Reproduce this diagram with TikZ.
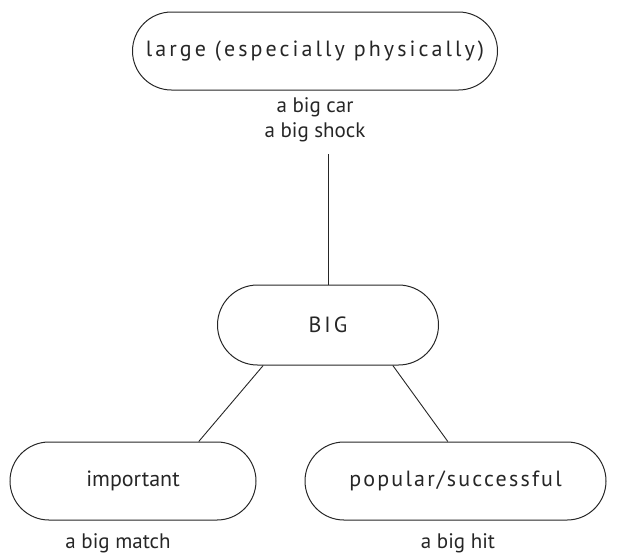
\documentclass[tikz,border=0pt]{standalone}
\usepackage{fontspec}
\setmainfont{PT Sans}
\usetikzlibrary{shapes.misc}
\newcommand{\spaced}[2]{{\addfontfeatures{LetterSpace=#1}#2}}
\begin{document}
\begin{tikzpicture}[x=1pt,y=-1pt,
  sense/.style={draw=black!85, line width=1pt, rounded rectangle, inner sep=0pt, font=\fontsize{22}{26}\selectfont, text=black!85},
  example/.style={font=\fontsize{21}{25}\selectfont, align=center, text=black!85, inner sep=0pt},
  link/.style={draw=black!85, line width=0.9pt}]
\useasboundingbox (0,0) rectangle (620,555);
\node[sense, minimum width=365pt, minimum height=78pt] (large) at (315,51) {\spaced{14}{large (especially physically)}};
\node[example] (largeex) at (315,120) {a big car\\a big shock};
\node[sense, minimum width=221pt, minimum height=80pt] (big) at (328,325) {\spaced{14}{BIG}};
\node[sense, minimum width=246pt, minimum height=78pt] (important) at (133,481) {important};
\node[sense, minimum width=301pt, minimum height=78pt] (popular) at (455.5,481) {\spaced{10}{popular/successful}};
\node[example] (importantex) at (118,543) {a big match};
\node[example] (popularex) at (458,543) {a big hit};
\coordinate (topend) at (328,154);
\draw[link] (topend) -- (big.north -| topend);
\draw[link] (big.212) -- (important.31);
\draw[link] (big.-32) -- (popular.101);
\end{tikzpicture}
\end{document}
